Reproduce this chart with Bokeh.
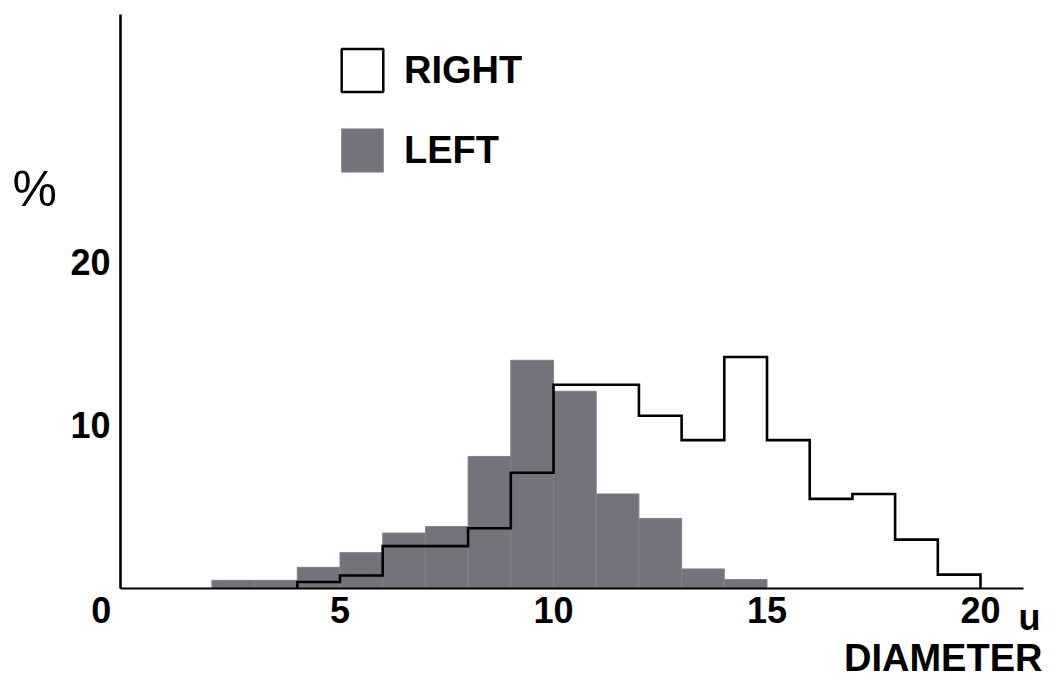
from bokeh.plotting import figure
from bokeh.models import (Range1d, FixedTicker, Legend, LegendItem, Label,
                          ColumnDataSource)
from bokeh.embed import file_html
from bokeh.resources import INLINE

# ---------------- data ----------------
left_edges = [2, 3, 4, 5, 6, 7, 8, 9, 10, 11, 12, 13, 14, 15]
left_pct = [0.5, 0.5, 1.3, 2.2, 3.4, 3.8, 8.1, 14.0, 12.1, 5.8, 4.3, 1.2, 0.55]

right_edges = [4, 5, 6, 7, 8, 9, 10, 11, 12, 13, 14, 15, 16, 17, 18, 19, 20]
right_pct = [0.4, 0.8, 2.6, 2.6, 3.7, 7.1, 12.5, 12.5, 10.6, 9.1, 14.2, 9.1,
             5.5, 5.8, 3.0, 0.85]

x_ticks = [5, 10, 15, 20]
y_ticks = [10, 20]
series_names = ["RIGHT", "LEFT"]
x_title = "DIAMETER"
y_title = "%"

FONT = "Liberation Sans"
GRAY = "#73737c"

p = figure(width=1045, height=682, output_backend="svg", toolbar_location=None,
           x_range=Range1d(-2.951, 21.522), y_range=Range1d(-5.767, 36.07),
           min_border_left=0, min_border_right=0, min_border_top=0,
           min_border_bottom=0)
p.outline_line_color = None
p.xgrid.visible = False
p.ygrid.visible = False
p.background_fill_color = "white"
p.border_fill_color = "white"

# LEFT histogram (filled bars)
left_src = ColumnDataSource(dict(left=left_edges[:-1], right=left_edges[1:],
                                 top=left_pct, bottom=[0] * len(left_pct)))
left_r = p.quad(left="left", right="right", top="top", bottom="bottom",
                source=left_src, fill_color=GRAY, line_color="#82828a",
                line_width=1)

# RIGHT histogram (outline only)
xs, ys = [right_edges[0]], [0]
for i, v in enumerate(right_pct):
    xs += [right_edges[i], right_edges[i + 1]]
    ys += [v, v]
xs.append(right_edges[-1])
ys.append(0)
p.line(xs, ys, line_color="black", line_width=2.6, line_join="miter")

# proxy renderer for the legend swatch of RIGHT
right_src = ColumnDataSource(dict(left=right_edges[:-1], right=right_edges[1:],
                                  top=right_pct, bottom=[0] * len(right_pct)))
proxy = p.quad(left="left", right="right", top="top", bottom="bottom",
               source=right_src, fill_color="white", line_color="black",
               line_width=2.5)
proxy.visible = False

# axes (placed inside the full-canvas frame)
for ax in (p.xaxis[0], p.yaxis[0]):
    ax.major_tick_out = 0
    ax.major_tick_in = 0
    ax.minor_tick_out = 0
    ax.minor_tick_in = 0
    ax.axis_line_color = "black"
    ax.major_label_text_font = FONT
    ax.major_label_text_font_style = "bold"
    ax.major_label_text_color = "black"
    ax.major_label_text_font_size = "36px"

p.xaxis.fixed_location = 0
p.yaxis.fixed_location = -0.14
p.xaxis.bounds = (-0.14, 21.0)
p.yaxis.bounds = (0, 35.2)
p.xaxis.axis_line_width = 2.2
p.yaxis.axis_line_width = 2.6
p.xaxis.ticker = FixedTicker(ticks=x_ticks)
p.yaxis.ticker = FixedTicker(ticks=y_ticks)
p.xaxis.major_label_standoff = 9
p.yaxis.major_label_standoff = 10

# extra axis texts
common = dict(text_font=FONT, text_color="black")
p.add_layout(Label(x=-0.59, y=-0.552, text="0", text_font_style="bold",
                   text_font_size="36px", text_align="center",
                   text_baseline="top", **common))
p.add_layout(Label(x=20.89, y=-0.552, text="u", text_font_style="bold",
                   text_font_size="36px", text_align="left",
                   text_baseline="top", **common))
p.add_layout(Label(x=21.45, y=-3.0, text=x_title, text_font_style="bold",
                   text_font_size="38px", text_align="right",
                   text_baseline="top", **common))
p.add_layout(Label(x=-2.15, y=24.5, text=y_title, text_font_style="normal",
                   text_font_size="50px", text_align="center",
                   text_baseline="middle", **common))

# legend
legend = Legend(items=[LegendItem(label=series_names[0], renderers=[proxy]),
                       LegendItem(label=series_names[1], renderers=[left_r])],
                location=(336, 505), orientation="vertical",
                glyph_width=52, glyph_height=54, label_height=54,
                label_standoff=16, spacing=26, padding=0, margin=0,
                border_line_color=None, background_fill_alpha=0,
                label_text_font=FONT, label_text_font_style="bold",
                label_text_font_size="38px", label_text_color="black")
p.add_layout(legend)

open("out.html", "w").write(file_html(p, INLINE))
